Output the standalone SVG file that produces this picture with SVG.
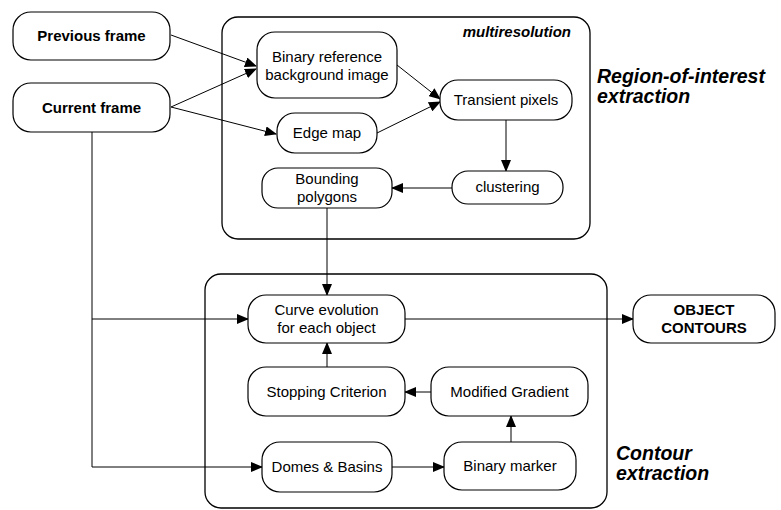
<svg xmlns="http://www.w3.org/2000/svg" width="781" height="510" viewBox="0 0 781 510">
<defs>
<marker id="ah" markerWidth="12" markerHeight="10" refX="11" refY="5" orient="auto" markerUnits="userSpaceOnUse">
<path d="M0,0 L12,5 L0,10 Z" fill="#000"/>
</marker>
<style>
.box{fill:#fff;stroke:#000;stroke-width:1.2}
.grp{fill:none;stroke:#000;stroke-width:1.3}
.t{font-family:"Liberation Sans",Arial,sans-serif;font-size:15px;text-anchor:middle;fill:#000}
.b{font-weight:bold}
.lbl{font-family:"Liberation Sans",Arial,sans-serif;font-weight:bold;font-style:italic;font-size:19.5px;fill:#000}
.c{fill:none;stroke:#000;stroke-width:1}
</style>
</defs>
<rect width="781" height="510" fill="#fff"/>
<g id="group-roi">
<rect class="grp" x="222" y="17" width="368" height="222" rx="16"/>
<text class="lbl" x="571" y="37" text-anchor="end" style="font-size:15px">multiresolution</text>
<text class="lbl" x="597" y="83">Region-of-interest</text>
<text class="lbl" x="597" y="103">extraction</text>
</g>
<g id="group-contour">
<rect class="grp" x="205" y="274" width="402" height="234" rx="16"/>
<text class="lbl" x="616" y="460">Contour</text>
<text class="lbl" x="616" y="480">extraction</text>
</g>
<g id="connectors">
<line class="c" x1="171" y1="35" x2="256" y2="66" marker-end="url(#ah)"/>
<line class="c" x1="171" y1="107" x2="256" y2="69" marker-end="url(#ah)"/>
<line class="c" x1="171" y1="107" x2="276" y2="134" marker-end="url(#ah)"/>
<line class="c" x1="397" y1="65" x2="440" y2="99" marker-end="url(#ah)"/>
<line class="c" x1="377" y1="133" x2="440" y2="102" marker-end="url(#ah)"/>
<line class="c" x1="506" y1="120" x2="506" y2="171" marker-end="url(#ah)"/>
<line class="c" x1="452" y1="188" x2="392" y2="188" marker-end="url(#ah)"/>
<line class="c" x1="327" y1="208" x2="327" y2="295" marker-end="url(#ah)"/>
<polyline class="c" points="92,132 92,319 248,319" marker-end="url(#ah)"/>
<polyline class="c" points="92,319 92,467 262,467" marker-end="url(#ah)"/>
<line class="c" x1="405" y1="319" x2="633" y2="319" marker-end="url(#ah)"/>
<line class="c" x1="327" y1="367" x2="327" y2="343" marker-end="url(#ah)"/>
<line class="c" x1="431" y1="392" x2="405" y2="392" marker-end="url(#ah)"/>
<line class="c" x1="392" y1="467" x2="444" y2="467" marker-end="url(#ah)"/>
<line class="c" x1="511" y1="442" x2="511" y2="416" marker-end="url(#ah)"/>
</g>
<g id="previous-frame">
<rect class="box" x="13" y="12" width="157" height="48" rx="18"/>
<text class="t b" x="91.5" y="40.5">Previous frame</text>
</g>
<g id="current-frame">
<rect class="box" x="13" y="83" width="157" height="49" rx="18"/>
<text class="t b" x="91.5" y="112.5">Current frame</text>
</g>
<g id="binary-reference">
<rect class="box" x="257" y="32" width="140" height="66" rx="18"/>
<text class="t" x="327" y="62">Binary reference</text>
<text class="t" x="327" y="80">background image</text>
</g>
<g id="transient-pixels">
<rect class="box" x="440" y="80" width="132" height="40" rx="18"/>
<text class="t" x="506" y="105">Transient pixels</text>
</g>
<g id="edge-map">
<rect class="box" x="277" y="113" width="100" height="40" rx="18"/>
<text class="t" x="327" y="138">Edge map</text>
</g>
<g id="clustering">
<rect class="box" x="452" y="171" width="111" height="33" rx="16"/>
<text class="t" x="507.5" y="192">clustering</text>
</g>
<g id="bounding-polygons">
<rect class="box" x="262" y="168" width="130" height="40" rx="16"/>
<text class="t" x="327" y="184">Bounding</text>
<text class="t" x="327" y="202">polygons</text>
</g>
<g id="curve-evolution">
<rect class="box" x="248" y="295" width="157" height="48" rx="18"/>
<text class="t" x="326.5" y="315">Curve evolution</text>
<text class="t" x="326.5" y="333">for each object</text>
</g>
<g id="stopping-criterion">
<rect class="box" x="248" y="367" width="157" height="49" rx="18"/>
<text class="t" x="326.5" y="396.5">Stopping Criterion</text>
</g>
<g id="modified-gradient">
<rect class="box" x="431" y="367" width="157" height="49" rx="18"/>
<text class="t" x="509.5" y="396.5">Modified Gradient</text>
</g>
<g id="domes-basins">
<rect class="box" x="262" y="442" width="130" height="50" rx="18"/>
<text class="t" x="327" y="472">Domes &amp; Basins</text>
</g>
<g id="binary-marker">
<rect class="box" x="444" y="442" width="132" height="48" rx="18"/>
<text class="t" x="510" y="471">Binary marker</text>
</g>
<g id="object-contours">
<rect class="box" x="633" y="295" width="142" height="48" rx="18"/>
<text class="t b" x="704" y="315">OBJECT</text>
<text class="t b" x="704" y="332.5">CONTOURS</text>
</g>
</svg>
